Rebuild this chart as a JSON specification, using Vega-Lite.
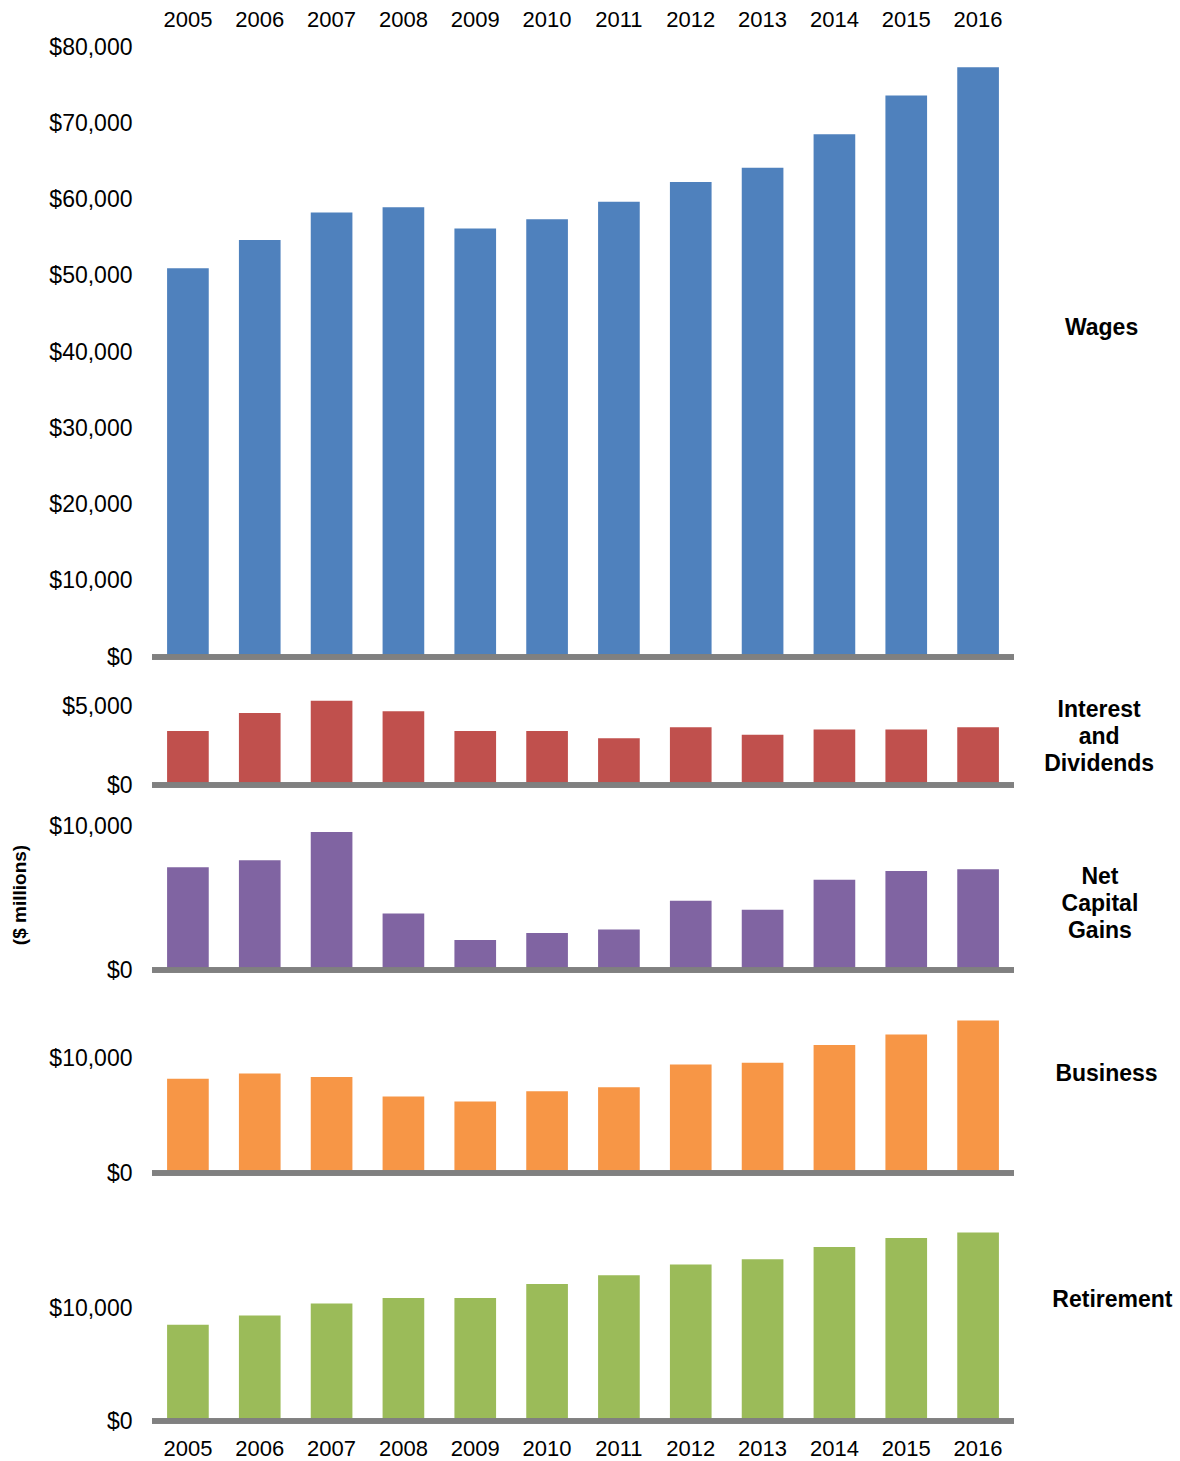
{
  "$schema": "https://vega.github.io/schema/vega-lite/v6.json",
  "padding": {"left": 10, "top": 8, "right": 0, "bottom": 0},
  "background": "white",
  "datasets": {
    "income": [
      {"year": "2005", "category": "Wages", "value": 51000},
      {"year": "2006", "category": "Wages", "value": 54700},
      {"year": "2007", "category": "Wages", "value": 58300},
      {"year": "2008", "category": "Wages", "value": 59000},
      {"year": "2009", "category": "Wages", "value": 56200},
      {"year": "2010", "category": "Wages", "value": 57400},
      {"year": "2011", "category": "Wages", "value": 59700},
      {"year": "2012", "category": "Wages", "value": 62300},
      {"year": "2013", "category": "Wages", "value": 64150},
      {"year": "2014", "category": "Wages", "value": 68550},
      {"year": "2015", "category": "Wages", "value": 73650},
      {"year": "2016", "category": "Wages", "value": 77350},
      {"year": "2005", "category": "Interest", "value": 3440},
      {"year": "2006", "category": "Interest", "value": 4600},
      {"year": "2007", "category": "Interest", "value": 5370},
      {"year": "2008", "category": "Interest", "value": 4700},
      {"year": "2009", "category": "Interest", "value": 3440},
      {"year": "2010", "category": "Interest", "value": 3440},
      {"year": "2011", "category": "Interest", "value": 2990},
      {"year": "2012", "category": "Interest", "value": 3680},
      {"year": "2013", "category": "Interest", "value": 3200},
      {"year": "2014", "category": "Interest", "value": 3550},
      {"year": "2015", "category": "Interest", "value": 3550},
      {"year": "2016", "category": "Interest", "value": 3680},
      {"year": "2005", "category": "NCG", "value": 7140},
      {"year": "2006", "category": "NCG", "value": 7630},
      {"year": "2007", "category": "NCG", "value": 9600},
      {"year": "2008", "category": "NCG", "value": 3930},
      {"year": "2009", "category": "NCG", "value": 2090},
      {"year": "2010", "category": "NCG", "value": 2580},
      {"year": "2011", "category": "NCG", "value": 2810},
      {"year": "2012", "category": "NCG", "value": 4810},
      {"year": "2013", "category": "NCG", "value": 4190},
      {"year": "2014", "category": "NCG", "value": 6280},
      {"year": "2015", "category": "NCG", "value": 6880},
      {"year": "2016", "category": "NCG", "value": 7000},
      {"year": "2005", "category": "Business", "value": 8250},
      {"year": "2006", "category": "Business", "value": 8720},
      {"year": "2007", "category": "Business", "value": 8400},
      {"year": "2008", "category": "Business", "value": 6710},
      {"year": "2009", "category": "Business", "value": 6270},
      {"year": "2010", "category": "Business", "value": 7170},
      {"year": "2011", "category": "Business", "value": 7500},
      {"year": "2012", "category": "Business", "value": 9510},
      {"year": "2013", "category": "Business", "value": 9650},
      {"year": "2014", "category": "Business", "value": 11200},
      {"year": "2015", "category": "Business", "value": 12130},
      {"year": "2016", "category": "Business", "value": 13360},
      {"year": "2005", "category": "Retirement", "value": 8600},
      {"year": "2006", "category": "Retirement", "value": 9410},
      {"year": "2007", "category": "Retirement", "value": 10480},
      {"year": "2008", "category": "Retirement", "value": 10980},
      {"year": "2009", "category": "Retirement", "value": 10980},
      {"year": "2010", "category": "Retirement", "value": 12230},
      {"year": "2011", "category": "Retirement", "value": 13000},
      {"year": "2012", "category": "Retirement", "value": 13960},
      {"year": "2013", "category": "Retirement", "value": 14440},
      {"year": "2014", "category": "Retirement", "value": 15540},
      {"year": "2015", "category": "Retirement", "value": 16340},
      {"year": "2016", "category": "Retirement", "value": 16820}
    ]
  },
  "data": {"name": "income"},
  "bounds": "flush",
  "spacing": 34,
  "vconcat": [
    {
      "width": 862, "height": 610,
      "transform": [{"filter": "datum.category === 'Wages'"}],
      "title": {"text": "Wages", "orient": "right", "angle": 0, "anchor": "middle", "align": "center", "baseline": "middle", "offset": 12, "dy": -24, "fontSize": 23, "fontWeight": "bold", "font": "Liberation Sans", "color": "#000000"},
      "layer": [
        {
          "mark": {"type": "bar", "color": "#4F81BD"},
          "encoding": {
            "x": {"field": "year", "type": "ordinal", "title": null, "scale": {"paddingInner": 0.42, "paddingOuter": 0.21}, "axis": {"orient": "top", "labelAngle": 0, "labelPadding": 16, "labelFontSize": 22}},
            "y": {"field": "value", "type": "quantitative", "title": null, "scale": {"domain": [0, 80000], "nice": false}, "axis": {"values": [0, 10000, 20000, 30000, 40000, 50000, 60000, 70000, 80000], "format": "$,.0f"}}
          }
        },
        {"mark": {"type": "rule", "color": "#808080", "strokeWidth": 4.5}, "encoding": {"y": {"datum": 0}}}
      ]
    },
    {
      "width": 862, "height": 94,
      "transform": [{"filter": "datum.category === 'Interest'"}],
      "title": {"text": ["Interest", "and", "Dividends"], "lineHeight": 27, "orient": "right", "angle": 0, "anchor": "middle", "align": "center", "baseline": "middle", "offset": -27, "dy": -28, "fontSize": 23, "fontWeight": "bold", "font": "Liberation Sans", "color": "#000000"},
      "layer": [
        {
          "mark": {"type": "bar", "color": "#C0504D"},
          "encoding": {
            "x": {"field": "year", "type": "ordinal", "title": null, "scale": {"paddingInner": 0.42, "paddingOuter": 0.21}, "axis": null},
            "y": {"field": "value", "type": "quantitative", "title": null, "scale": {"domain": [0, 6000], "nice": false}, "axis": {"values": [0, 5000], "format": "$,.0f"}}
          }
        },
        {"mark": {"type": "rule", "color": "#808080", "strokeWidth": 4.5}, "encoding": {"y": {"datum": 0}}}
      ]
    },
    {
      "width": 862, "height": 151,
      "transform": [{"filter": "datum.category === 'NCG'"}],
      "title": {"text": ["Net", "Capital", "Gains"], "lineHeight": 27, "orient": "right", "angle": 0, "anchor": "middle", "align": "center", "baseline": "middle", "offset": 7, "dy": -18, "fontSize": 23, "fontWeight": "bold", "font": "Liberation Sans", "color": "#000000"},
      "layer": [
        {
          "mark": {"type": "bar", "color": "#8064A2"},
          "encoding": {
            "x": {"field": "year", "type": "ordinal", "title": null, "scale": {"paddingInner": 0.42, "paddingOuter": 0.21}, "axis": null},
            "y": {"field": "value", "type": "quantitative", "title": "($ millions)", "scale": {"domain": [0, 10500], "nice": false}, "axis": {"values": [0, 10000], "format": "$,.0f", "titleFontSize": 19, "titleFontWeight": "bold", "titleFont": "Liberation Sans", "titleColor": "#000000", "titlePadding": 19}}
          }
        },
        {"mark": {"type": "rule", "color": "#808080", "strokeWidth": 4.5}, "encoding": {"y": {"datum": 0}}}
      ]
    },
    {
      "width": 862, "height": 169,
      "transform": [{"filter": "datum.category === 'Business'"}],
      "title": {"text": "Business", "orient": "right", "angle": 0, "anchor": "middle", "align": "center", "baseline": "middle", "offset": -12, "dy": -15, "fontSize": 23, "fontWeight": "bold", "font": "Liberation Sans", "color": "#000000"},
      "layer": [
        {
          "mark": {"type": "bar", "color": "#F79646"},
          "encoding": {
            "x": {"field": "year", "type": "ordinal", "title": null, "scale": {"paddingInner": 0.42, "paddingOuter": 0.21}, "axis": null},
            "y": {"field": "value", "type": "quantitative", "title": null, "scale": {"domain": [0, 14800], "nice": false}, "axis": {"values": [0, 10000], "format": "$,.0f"}}
          }
        },
        {"mark": {"type": "rule", "color": "#808080", "strokeWidth": 4.5}, "encoding": {"y": {"datum": 0}}}
      ]
    },
    {
      "width": 862, "height": 214,
      "transform": [{"filter": "datum.category === 'Retirement'"}],
      "title": {"text": "Retirement", "orient": "right", "angle": 0, "anchor": "middle", "align": "center", "baseline": "middle", "offset": -24, "dy": -14, "fontSize": 23, "fontWeight": "bold", "font": "Liberation Sans", "color": "#000000"},
      "layer": [
        {
          "mark": {"type": "bar", "color": "#9BBB59"},
          "encoding": {
            "x": {"field": "year", "type": "ordinal", "title": null, "scale": {"paddingInner": 0.42, "paddingOuter": 0.21}, "axis": {"orient": "bottom", "labelAngle": 0, "labelPadding": 17, "labelFontSize": 22}},
            "y": {"field": "value", "type": "quantitative", "title": null, "scale": {"domain": [0, 19100], "nice": false}, "axis": {"values": [0, 10000], "format": "$,.0f"}}
          }
        },
        {"mark": {"type": "rule", "color": "#808080", "strokeWidth": 4.5}, "encoding": {"y": {"datum": 0}}}
      ]
    }
  ],
  "config": {
    "view": {"stroke": null},
    "font": "Liberation Sans",
    "axis": {"grid": false, "domain": false, "ticks": false, "tickSize": 0, "labelFontSize": 23, "labelColor": "#000000", "labelFont": "Liberation Sans", "labelPadding": 20}
  }
}
